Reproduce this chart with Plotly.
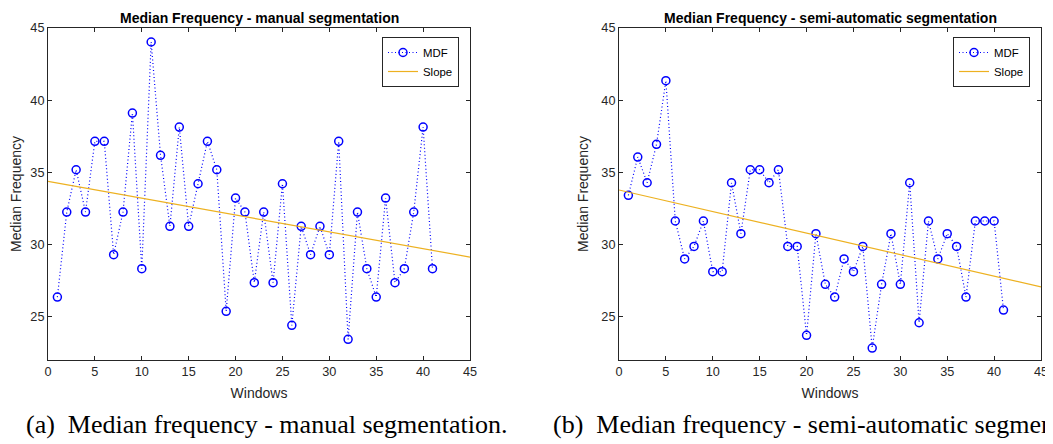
import plotly.graph_objects as go

# page body has an 8px margin, so the figure starts at (8, 8)
OFF = 8
W, H = 1053 - OFF, 444 - OFF

windows = list(range(1, 42))
mdf_manual = [26.36, 32.25, 35.18, 32.25, 37.15, 37.15, 29.30, 32.25, 39.11, 28.33,
              44.03, 36.18, 31.26, 38.14, 31.26, 34.21, 37.15, 35.18, 25.37, 33.22,
              32.25, 27.36, 32.25, 27.36, 34.21, 24.40, 31.26, 29.30, 31.26, 29.30,
              37.15, 23.43, 32.25, 28.33, 26.36, 33.22, 27.36, 28.33, 32.25, 38.14,
              28.33]
mdf_semi = [33.41, 36.06, 34.28, 36.94, 41.35, 31.63, 29.00, 29.87, 31.63, 28.12,
            28.12, 34.28, 30.75, 35.18, 35.18, 34.28, 35.18, 29.87, 29.87, 23.71,
            30.75, 27.24, 26.36, 29.00, 28.12, 29.87, 22.83, 27.24, 30.75, 27.24,
            34.28, 24.58, 31.63, 29.00, 30.75, 29.87, 26.36, 31.63, 31.63, 31.63,
            25.46]
slope_x = [0, 45]
slope_manual = [34.38, 29.13]
slope_semi = [33.78, 27.06]

x_ticks = [0, 5, 10, 15, 20, 25, 30, 35, 40, 45]
y_ticks = [25, 30, 35, 40, 45]

titles = ["Median Frequency - manual segmentation",
          "Median Frequency - semi-automatic segmentation"]
captions = ["(a)&nbsp; Median frequency - manual segmentation.",
            "(b)&nbsp; Median frequency - semi-automatic segmentation."]

BLUE = "#0000FF"
ORANGE = "#EDB120"
AXC = "#262626"

def px(x):
    return (x - OFF) / W

def py(y):
    return 1 - (y - OFF) / H

fig = go.Figure()

panels = [
    (mdf_manual, slope_manual, "x", "y", "legend"),
    (mdf_semi, slope_semi, "x2", "y2", "legend2"),
]

for vals, slope, xa, ya, leg in panels:
    fig.add_trace(go.Scatter(
        x=windows, y=vals, mode="lines+markers", name="MDF",
        line=dict(color=BLUE, width=1.2, dash="1px,2.5px"),
        marker=dict(symbol="circle-open", size=8, color=BLUE, line=dict(width=1.5, color=BLUE)),
        xaxis=xa, yaxis=ya, legend=leg,
    ))
    fig.add_trace(go.Scatter(
        x=slope_x, y=slope, mode="lines", name="Slope",
        line=dict(color=ORANGE, width=1.2),
        xaxis=xa, yaxis=ya, legend=leg,
    ))

axis_common = dict(
    showgrid=False, zeroline=False, showline=True, linecolor=AXC, linewidth=1,
    mirror="ticks", ticks="inside", ticklen=4, tickcolor=AXC, automargin=False,
    tickfont=dict(family="Liberation Sans, Arial, sans-serif", size=12.7, color=AXC),
)
title_font = dict(family="Liberation Sans, Arial", size=14, color=AXC)
legend_font = dict(family="Liberation Sans, Arial", size=11.4, color="black")

fig.update_layout(
    width=W, height=H,
    margin=dict(l=0, r=0, t=0, b=0, autoexpand=False),
    paper_bgcolor="white", plot_bgcolor="white",
    showlegend=True,
    xaxis=dict(domain=[px(48), px(470)], range=[0, 45], tickvals=x_ticks, anchor="y",
               title=dict(text="Windows", standoff=9, font=title_font), **axis_common),
    yaxis=dict(domain=[py(360), py(28)], range=[22, 45], tickvals=y_ticks, anchor="x",
               title=dict(text="Median Frequency", standoff=9, font=title_font), **axis_common),
    xaxis2=dict(domain=[px(619), px(1041)], range=[0, 45], tickvals=x_ticks, anchor="y2",
                title=dict(text="Windows", standoff=9, font=title_font), **axis_common),
    yaxis2=dict(domain=[py(360), py(28)], range=[22, 45], tickvals=y_ticks, anchor="x2",
                title=dict(text="Median Frequency", standoff=9, font=title_font), **axis_common),
    legend=dict(x=px(459), y=py(37), xanchor="right", yanchor="top",
                bgcolor="white", bordercolor=AXC, borderwidth=1, font=legend_font,
                itemwidth=30, tracegroupgap=0),
    legend2=dict(x=px(1030), y=py(37), xanchor="right", yanchor="top",
                 bgcolor="white", bordercolor=AXC, borderwidth=1, font=legend_font,
                 itemwidth=30, tracegroupgap=0),
)

for t, (x0, x1) in zip(titles, [(48, 470), (619, 1041)]):
    fig.add_annotation(text="<b>%s</b>" % t, x=px((x0 + x1) / 2), y=py(8.5),
                       xref="paper", yref="paper", xanchor="center", yanchor="top",
                       showarrow=False,
                       font=dict(family="Liberation Sans, Arial", size=14, color="black"))

for c, xl in zip(captions, [24, 551]):
    fig.add_annotation(text=c, x=px(xl), y=py(424), xref="paper", yref="paper",
                       xanchor="left", yanchor="middle", showarrow=False,
                       font=dict(family="Liberation Serif, DejaVu Serif, serif", size=26, color="black"))

fig.write_html("out.html")
